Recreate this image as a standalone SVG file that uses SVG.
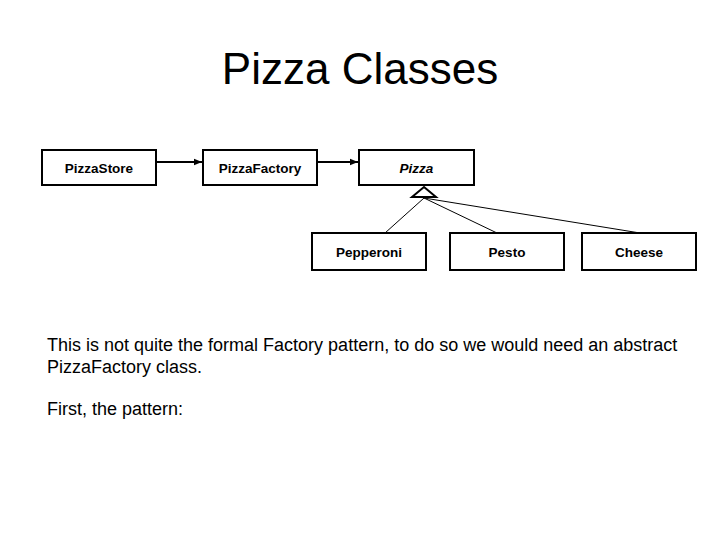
<svg xmlns="http://www.w3.org/2000/svg" width="720" height="540" viewBox="0 0 720 540">
<defs>
<style>
.box{fill:#fff;stroke:#000;stroke-width:2}
.lbl{font-family:"Liberation Sans",Arial,sans-serif;font-size:13.5px;font-weight:bold;text-anchor:middle;fill:#000}
.assoc{stroke:#000;stroke-width:2;fill:none}
.gen{stroke:#000;stroke-width:1;fill:none}
.body{font-family:"Liberation Sans",Arial,sans-serif;font-size:18px;fill:#000}
</style>
<marker id="arr" viewBox="0 0 10 10" refX="10" refY="5" markerWidth="4" markerHeight="4" orient="auto" markerUnits="strokeWidth">
<path d="M0,1 L10,5 L0,9 Z" fill="#000"/>
</marker>
</defs>
<rect width="720" height="540" fill="#fff"/>
<text x="360" y="84" font-family="'Liberation Sans',Arial,sans-serif" font-size="44" text-anchor="middle">Pizza Classes</text>
<g id="connectors">
<line class="assoc" x1="157" y1="162" x2="202" y2="162" marker-end="url(#arr)"/>
<line class="assoc" x1="318" y1="162" x2="358" y2="162" marker-end="url(#arr)"/>
<line class="gen" x1="424" y1="198" x2="385" y2="233"/>
<line class="gen" x1="424" y1="198" x2="497" y2="233"/>
<line class="gen" x1="424" y1="198" x2="640" y2="233"/>
<path d="M424,187 L436,197 L412,197 Z" fill="#fff" stroke="#000" stroke-width="2"/>
</g>
<g id="PizzaStore"><rect class="box" x="42" y="150" width="114" height="35"/><text class="lbl" x="99" y="173">PizzaStore</text></g>
<g id="PizzaFactory"><rect class="box" x="203" y="150" width="114" height="35"/><text class="lbl" x="260" y="173">PizzaFactory</text></g>
<g id="Pizza"><rect class="box" x="359" y="150" width="115" height="35"/><text class="lbl" x="416.5" y="173" font-style="italic">Pizza</text></g>
<g id="Pepperoni"><rect class="box" x="312" y="233" width="114" height="37"/><text class="lbl" x="369" y="257">Pepperoni</text></g>
<g id="Pesto"><rect class="box" x="450" y="233" width="114" height="37"/><text class="lbl" x="507" y="257">Pesto</text></g>
<g id="Cheese"><rect class="box" x="582" y="233" width="114" height="37"/><text class="lbl" x="639" y="257">Cheese</text></g>
<text class="body" x="47" y="351">This is not quite the formal Factory pattern, to do so we would need an abstract</text>
<text class="body" x="47" y="373">PizzaFactory class.</text>
<text class="body" x="47" y="415">First, the pattern:</text>
</svg>
